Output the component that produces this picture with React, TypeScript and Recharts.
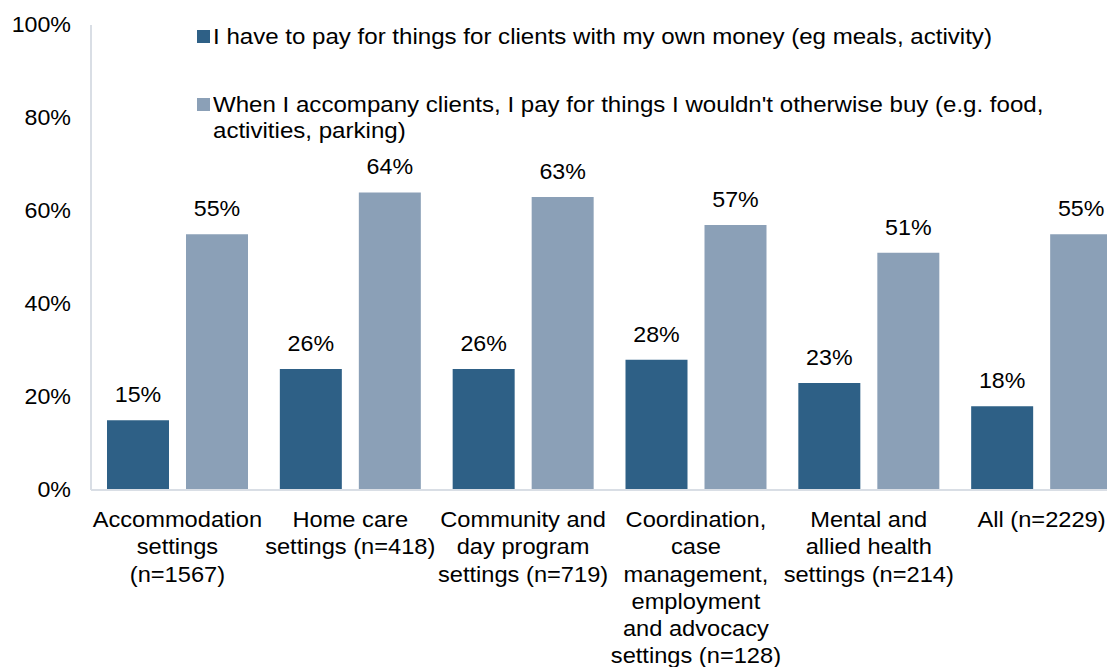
import { BarChart, Bar, XAxis, YAxis, LabelList } from "recharts";

const categories = [
  "Accommodation\nsettings\n(n=1567)",
  "Home care\nsettings (n=418)",
  "Community and\nday program\nsettings (n=719)",
  "Coordination,\ncase\nmanagement,\nemployment\nand advocacy\nsettings (n=128)",
  "Mental and\nallied health\nsettings (n=214)",
  "All (n=2229)",
];
const ownMoney = [15, 26, 26, 28, 23, 18];
const accompany = [55, 64, 63, 57, 51, 55];
const yTicks = [0, 20, 40, 60, 80, 100];

const seriesNames = [
  "I have to pay for things for clients with my own money (eg meals, activity)",
  "When I accompany clients, I pay for things I wouldn't otherwise buy (e.g. food, activities, parking)",
];
const colors = ["#2E6086", "#8BA0B7"];

const data = categories.map((name, i) => ({ name, own: ownMoney[i], acc: accompany[i] }));

const font = "'Liberation Sans', Arial, sans-serif";
const FS = 21.5;
const SX = 1.08;

const stretch = (x: number, s = SX) => `translate(${x},0) scale(${s},1) translate(${-x},0)`;

function XTick({ x, y, payload }: any) {
  const lines = String(payload.value).split("\n");
  return (
    <text x={x} y={y + 29} textAnchor="middle" fontSize={FS} fill="#000" fontFamily={font} transform={stretch(x, 1.1)}>
      {lines.map((l, i) => (
        <tspan key={i} x={x} dy={i === 0 ? 0 : 27.3}>{l}</tspan>
      ))}
    </text>
  );
}

function YTick({ x, y, payload }: any) {
  return (
    <text x={x} y={y + 7} textAnchor="end" fontSize={FS} fill="#000" fontFamily={font} transform={stretch(x)}>
      {`${payload.value}%`}
    </text>
  );
}

function BarLabel({ x, y, width, value }: any) {
  const cx = x + width / 2;
  return (
    <text x={cx} y={y - 18} textAnchor="middle" fontSize={FS} fill="#000" fontFamily={font} transform={stretch(cx)}>
      {`${value}%`}
    </text>
  );
}

function LegendBox() {
  return (
    <div style={{
      position: "absolute", top: 16, left: 189, fontFamily: font, fontSize: FS, color: "#000",
      lineHeight: "26px",
    }}>
      {seriesNames.map((n, i) => (
        <div key={i} style={{ display: "flex", alignItems: "flex-start", marginBottom: i === 0 ? 42 : 0 }}>
          <span style={{ width: 13, height: 13, background: colors[i], marginTop: 6, marginRight: 3, flex: "none" }} />
          <span style={{ display: "block", width: 760, transform: "scaleX(1.12)", transformOrigin: "left" }}>{n}</span>
        </div>
      ))}
    </div>
  );
}

export default function App() {
  return (
    <div style={{ position: "relative", width: 1107, overflow: "hidden" }}>
      <BarChart
        width={1120}
        height={659}
        data={data}
        margin={{ top: 17, right: 0, bottom: 0, left: 0 }}
        barSize={62}
        barGap={17}
      >
        <XAxis
          dataKey="name"
          axisLine={{ stroke: "#D9DEE5", strokeWidth: 2 }}
          tickLine={false}
          interval={0}
          height={177}
          tick={<XTick />}
        />
        <YAxis
          domain={[0, 100]}
          ticks={yTicks}
          width={83}
          axisLine={{ stroke: "#D9DEE5", strokeWidth: 2 }}
          tickLine={false}
          tickMargin={14}
          tick={<YTick />}
        />
        <Bar dataKey="own" fill={colors[0]} isAnimationActive={false}>
          <LabelList dataKey="own" content={<BarLabel />} />
        </Bar>
        <Bar dataKey="acc" fill={colors[1]} isAnimationActive={false}>
          <LabelList dataKey="acc" content={<BarLabel />} />
        </Bar>
      </BarChart>
      <LegendBox />
    </div>
  );
}
